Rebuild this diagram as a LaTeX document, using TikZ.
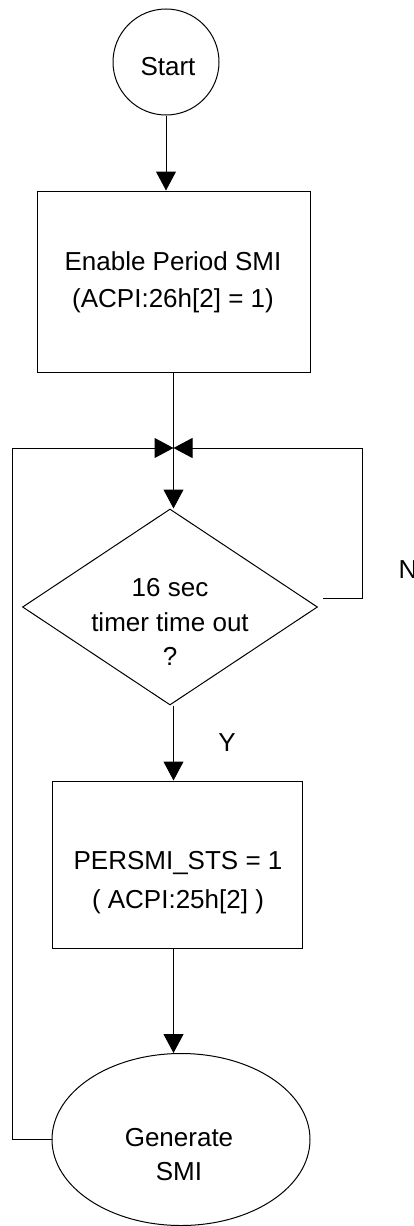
\documentclass[tikz,border=0pt]{standalone}
\usepackage{fontspec}
\setmainfont{Liberation Sans}
\usetikzlibrary{shapes.geometric,arrows.meta}
\begin{document}
\begin{tikzpicture}[x=0.5pt,y=-0.5pt,
  line width=0.5pt,
  txt/.style={font=\fontsize{13}{18.5}\selectfont, align=center, inner sep=0pt},
  procbox/.style={draw, rectangle, inner sep=0pt},
  arr/.style={-{Triangle[length=9.5pt,width=10pt]}}]
\useasboundingbox (0,0) rectangle (413,1226);
\node[draw, circle, minimum size=53pt, inner sep=0pt] (start) at (166,62) {};
\node[txt] (starttxt) at (168,67) {Start};
\node[procbox, minimum width=136.5pt, minimum height=90.5pt] (b1) at (173.5,281.5) {};
\node[txt] (b1txt) at (173,282) {Enable Period SMI\\(ACPI:26h[2] = 1)};
\coordinate (j) at (173.5,448);
\node[draw, diamond, minimum width=147.5pt, minimum height=98pt, inner sep=0pt] (dec) at (170,607) {};
\node[txt, font=\fontsize{13}{17.3}\selectfont] (dectxt) at (170,622) {16 sec\\timer time out\\?};
\node[procbox, minimum width=125pt, minimum height=83.5pt] (b2) at (177,864.5) {};
\node[txt, font=\fontsize{13}{19.5}\selectfont] (b2txt) at (178,883) {PERSMI\_STS = 1\\ ( ACPI:25h[2] )};
\node[draw, ellipse, minimum width=129pt, minimum height=86pt, inner sep=0pt] (gen) at (181,1139.5) {};
\node[txt, font=\fontsize{13}{17}\selectfont] (gentxt) at (179,1155) {Generate\\SMI};
\node[txt, anchor=west] (nlab) at (398,570) {N};
\node[txt] (ylab) at (227,743) {Y};
\coordinate (nstart) at (323,598);
\coordinate (rtop) at (362,448);
\coordinate (lft) at (12,448);
\draw[arr] (start.south) -- (start.south |- b1.north);
\draw (b1.south) -- (j);
\draw[arr] (j) -- (j |- dec.north);
\draw[arr] (j |- dec.south) -- (j |- b2.north);
\draw[arr] (j |- b2.south) -- (j |- gen.north);
\draw[arr] (nstart) -| (rtop) -- (j);
\draw[arr] (gen.west) -| (lft) -- (j);
\end{tikzpicture}
\end{document}
